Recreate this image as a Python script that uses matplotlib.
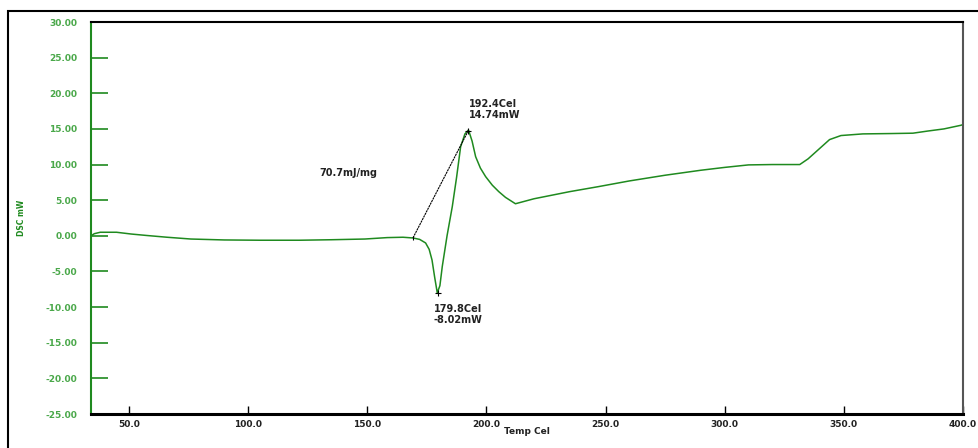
import matplotlib
matplotlib.use("Agg")
import matplotlib.pyplot as plt
from matplotlib.patches import Rectangle

GREEN = "#1f8a1f"
TXT = "#222222"

# DSC trace
temp = [34.1, 35.5, 38.0, 44.8, 51.0, 57.4, 66.0, 76.0, 90.0, 105.0, 121.5, 135.0,
        149.0, 158.4, 165.0, 169.2, 172.0, 174.5, 176.0, 177.2, 178.3, 179.4,
        180.5, 181.5, 183.5, 185.7, 187.5, 189.2, 191.0, 192.5, 194.0, 195.5,
        197.5, 199.7, 202.5, 205.2, 208.0, 210.8, 212.2, 220.0, 235.0, 247.0,
        260.0, 275.0, 290.0, 300.0, 310.0, 320.0, 331.5, 335.0, 340.0, 344.0,
        348.8, 358.0, 370.0, 379.0, 385.2, 392.0, 399.0, 400.0]
dsc = [0.0, 0.3, 0.5, 0.5, 0.25, 0.05, -0.2, -0.45, -0.58, -0.62, -0.62, -0.55,
       -0.45, -0.25, -0.2, -0.3, -0.5, -1.0, -1.9, -3.4, -5.8, -8.0,
       -7.0, -4.3, 0.0, 4.1, 8.2, 12.5, 14.3, 14.85, 13.3, 11.1,
       9.5, 8.3, 7.1, 6.2, 5.4, 4.8, 4.5, 5.2, 6.2, 6.9,
       7.7, 8.5, 9.2, 9.6, 9.95, 10.0, 10.0, 10.8, 12.3, 13.5,
       14.07, 14.3, 14.35, 14.4, 14.7, 15.0, 15.5, 15.6]

onset = (169.2, -0.3)
peak_min = (179.8, -8.02)
peak_max = (192.4, 14.74)

x_ticks = [50, 100, 150, 200, 250, 300, 350, 400]
y_ticks = [-25, -20, -15, -10, -5, 0, 5, 10, 15, 20, 25, 30]

fig = plt.figure(figsize=(9.79, 4.48), dpi=100)
fig.patches.append(Rectangle((8 / 979, -0.1), 1.2, (448 - 11) / 448 + 0.1,
                             transform=fig.transFigure, fill=False,
                             edgecolor="black", lw=1.5))

ax = fig.add_axes([91 / 979, 34 / 448, (963 - 91) / 979, (414 - 22) / 448])
ax.plot(temp, dsc, color=GREEN, lw=1.1)
ax.plot([onset[0], peak_max[0]], [onset[1], peak_max[1]], color="black",
        lw=0.8, ls=(0, (2, 0.6)))
ax.plot([peak_min[0], peak_max[0]], [peak_min[1], peak_max[1]], "+",
        color="black", ms=5, mew=0.8)
ax.plot([onset[0]], [onset[1]], "|", color="black", ms=3, mew=0.8)

ax.set_xlim(34.1, 400)
ax.set_ylim(-25, 30)
ax.set_xticks(x_ticks)
ax.set_xticklabels([f"{v:.1f}" for v in x_ticks])
ax.set_yticks(y_ticks)
ax.set_yticklabels([f"{v:.2f}" for v in y_ticks])
ax.tick_params(axis="y", direction="in", length=12, width=1.2, color=GREEN,
               labelcolor="#4aa84a", labelsize=6.5, pad=10)
ax.tick_params(axis="x", direction="in", length=6, width=1, color="black",
               labelcolor=TXT, labelsize=6.5, pad=4)
for lab in ax.get_xticklabels() + ax.get_yticklabels():
    lab.set_fontweight("bold")

ax.spines["left"].set_color(GREEN)
ax.spines["left"].set_linewidth(1.5)
ax.spines["bottom"].set_linewidth(2.2)
ax.spines["top"].set_linewidth(1.5)
ax.spines["right"].set_color("#555555")
ax.spines["right"].set_linewidth(1.5)

ax.set_xlabel("Temp Cel", fontsize=6.5, fontweight="bold", color=TXT, labelpad=-1)
ax.set_ylabel("DSC mW", fontsize=5.5, fontweight="bold", color=GREEN, labelpad=14)

ax.text(192.6, 16.2, "192.4Cel\n14.74mW", fontsize=7, fontweight="bold",
        color=TXT, ha="left", va="bottom", linespacing=1.2)
ax.text(178.0, -9.5, "179.8Cel\n-8.02mW", fontsize=7, fontweight="bold",
        color=TXT, ha="left", va="top", linespacing=1.2)
ax.text(130.0, 8.8, "70.7mJ/mg", fontsize=7, fontweight="bold", color=TXT,
        ha="left", va="center")

fig.savefig("out.png", dpi=100)
